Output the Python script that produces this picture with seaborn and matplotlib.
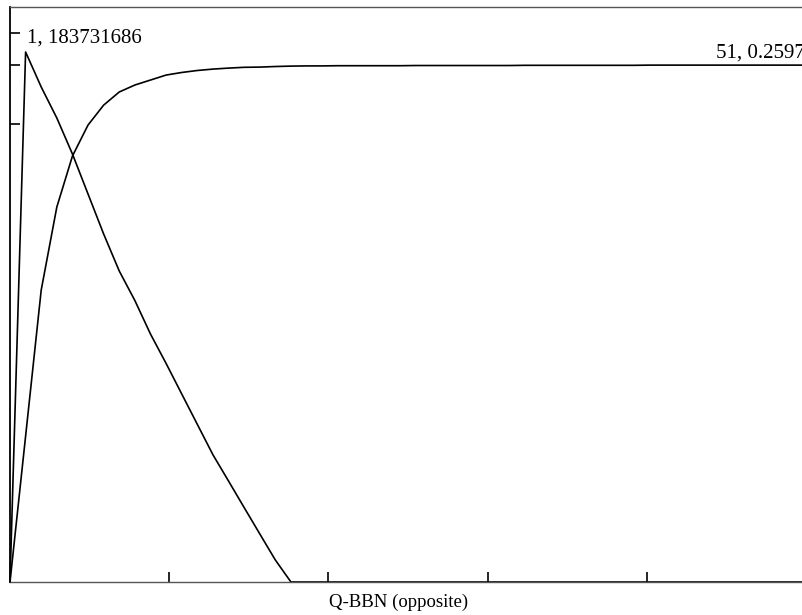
import numpy as np
import pandas as pd
import matplotlib
matplotlib.use("Agg")
import matplotlib.pyplot as plt
import seaborn as sns

# ---- data ----
steps = list(range(0, 52))
series_a = [0, 183731686, 171600000, 160850000, 148370000, 134500000, 120640000,
            107810000, 97580000, 85970000, 75780000, 65210000, 54670000, 44130000,
            35010000, 25830000, 16710000, 7630000] + [0] * 34
series_b = [0.0, 0.0733, 0.1467, 0.1884, 0.2140, 0.2296, 0.2396, 0.2462, 0.2497,
            0.2522, 0.2547, 0.2560, 0.2570, 0.2577, 0.2582, 0.2586, 0.2587, 0.2590,
            0.2592, 0.2593, 0.2593, 0.2594, 0.2594, 0.2594, 0.2594, 0.2594,
            0.2595, 0.2595, 0.2595, 0.2595, 0.2595, 0.2595, 0.2595,
            0.2596, 0.2596, 0.2596, 0.2596, 0.2596, 0.2596, 0.2596, 0.2596,
            0.2597, 0.2597, 0.2597, 0.2597, 0.2597, 0.2597, 0.2597, 0.2597,
            0.2597, 0.2597, 0.2597]
x_ticks = [10.2, 20.4, 30.6, 40.8]
y_ticks_a = [190300000, 179200000, 158800000]
label_a = "1, 183731686"
label_b = "51, 0.2597"
x_label = "Q-BBN (opposite)"

df = pd.DataFrame({"step": steps, "a": series_a, "b": series_b})

sns.set_theme(style="white")
plt.rcParams["font.family"] = ["Liberation Serif", "DejaVu Serif"]

fig = plt.figure(figsize=(8.03, 6.15), dpi=100)
ax = fig.add_axes([10 / 803, 33 / 615, 796 / 803, 575 / 615])
ax2 = ax.twinx()

sns.lineplot(data=df, x="step", y="a", ax=ax, color="black", linewidth=1.2,
             clip_on=False)
sns.lineplot(data=df, x="step", y="b", ax=ax2, color="black", linewidth=1.2,
             clip_on=False)

ax.set_xlim(0, 51)
ax.set_ylim(0, 1.9933e8)
ax2.set_ylim(0, 0.2889)

ax.set_xticks(x_ticks)
ax.set_xticklabels([])
ax.set_yticks(y_ticks_a)
ax.set_yticklabels([])
ax.tick_params(axis="both", direction="in", length=7.5, width=1.2, color="black",
               left=True, bottom=True)
ax2.set_yticks([])
ax2.set_ylabel("")
ax.set_ylabel("")
ax.set_xlabel(x_label, fontsize=13.5, color="black")
ax.xaxis.set_label_coords(389 / 796, -0.021, transform=ax.transAxes)
ax.xaxis.label.set_va("top")

ax.spines["right"].set_visible(False)
for s in ax2.spines.values():
    s.set_visible(False)
ax.spines["left"].set_color("black")
ax.spines["left"].set_linewidth(1.3)
for s in ["top", "bottom"]:
    ax.spines[s].set_color("#555555")
    ax.spines[s].set_linewidth(1.0)
    ax.spines[s].set_linestyle((0, (1, 1)))

ax.annotate(label_a, xy=(steps[1], series_a[1]), xytext=(1, 3),
            textcoords="offset points", ha="left", va="bottom",
            fontsize=15, color="black")
ax2.annotate(label_b, xy=(steps[-1], series_b[-1]), xytext=(-65, 1.5),
             textcoords="offset points", ha="left", va="bottom",
             fontsize=15, color="black", annotation_clip=False)

fig.savefig("out.png", dpi=100, facecolor="white")
